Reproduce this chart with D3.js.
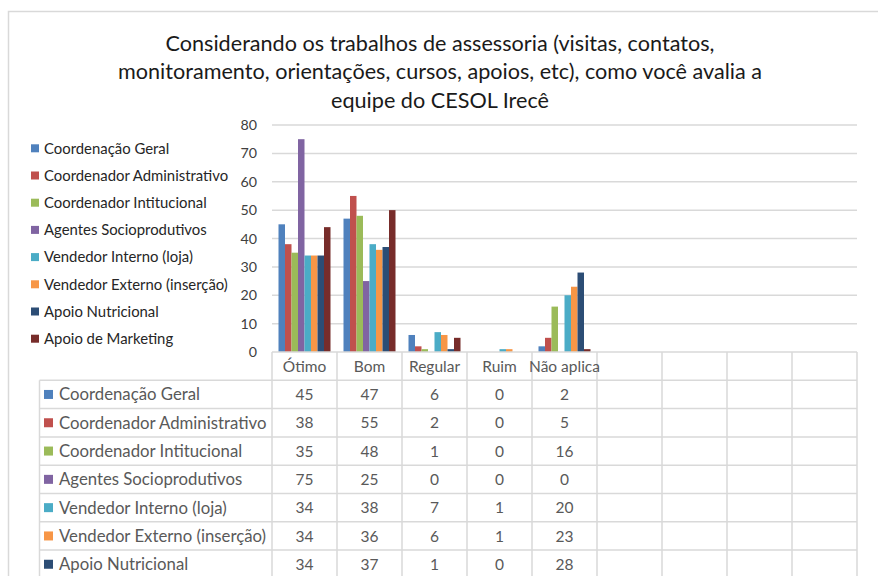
<!DOCTYPE html>
<html><head><meta charset="utf-8">
<script src="https://cdn.jsdelivr.net/npm/d3@7"></script>
<style>body{margin:0;background:#fff;overflow:hidden}</style>
</head><body><svg id="c" width="878" height="576"></svg>
<script>
// ---------- data ----------
const titleLines = [
  "Considerando os trabalhos de assessoria (visitas, contatos,",
  "monitoramento, orientações, cursos, apoios, etc), como você avalia a",
  "equipe do CESOL Irecê"
];
const categories = ["Ótimo", "Bom", "Regular", "Ruim", "Não aplica"];
const blankColumns = 4;
const seriesNames = [
  "Coordenação Geral", "Coordenador Administrativo", "Coordenador Intitucional",
  "Agentes Socioprodutivos", "Vendedor Interno (loja)", "Vendedor Externo (inserção)",
  "Apoio Nutricional", "Apoio de Marketing"
];
const coordenacaoGeral        = [45, 47, 6, 0, 2];
const coordenadorAdministrativo = [38, 55, 2, 0, 5];
const coordenadorIntitucional = [35, 48, 1, 0, 16];
const agentesSocioprodutivos  = [75, 25, 0, 0, 0];
const vendedorInterno         = [34, 38, 7, 1, 20];
const vendedorExterno         = [34, 36, 6, 1, 23];
const apoioNutricional        = [34, 37, 1, 0, 28];
const apoioMarketing          = [44, 50, 5, 0, 1];
const yTicks = [0, 10, 20, 30, 40, 50, 60, 70, 80];
const colors = ["#4F81BD", "#C0504D", "#9BBB59", "#8064A2", "#4BACC6", "#F79646", "#2C4D75", "#772C2A"];

const seriesValues = [coordenacaoGeral, coordenadorAdministrativo, coordenadorIntitucional,
  agentesSocioprodutivos, vendedorInterno, vendedorExterno, apoioNutricional, apoioMarketing];
const series = seriesNames.map((n, i) => ({name: n, values: seriesValues[i], color: colors[i]}));

// ---------- layout ----------
const FONT = "Lato, 'Open Sans', sans-serif";
const svg = d3.select("#c");
const plot = {left: 272, right: 857, top: 125, bottom: 352};
const gridColor = "#D9D9D9";

function fitSize(text, target) {
  const t = svg.append("text").style("font-family", FONT).style("font-size", "100px").text(text);
  const w = t.node().getComputedTextLength();
  t.remove();
  return 100 * target / w;
}

svg.append("rect").attr("width", 878).attr("height", 576).attr("fill", "#fff");
// outer chart border
svg.append("path").attr("d", "M8.5,590V11.5H890").attr("fill", "none")
  .attr("stroke", "#D9D9D9").attr("stroke-width", 1.5);

// title
const titleSize = fitSize(titleLines[1], 644);
svg.append("g").selectAll("text").data(titleLines).join("text")
  .attr("x", 440).attr("y", (d, i) => 51 + i * 28.3)
  .attr("text-anchor", "middle")
  .style("font-family", FONT).style("font-size", titleSize + "px").attr("fill", "#1a1a1a")
  .text(d => d);

// scales
const slots = d3.range(categories.length + blankColumns);
const x = d3.scaleBand().domain(slots).range([plot.left, plot.right]).paddingInner(0).paddingOuter(0);
const inner = d3.scaleBand().domain(d3.range(series.length)).range([x.bandwidth() * 0.1, x.bandwidth() * 0.9]);
const y = d3.scaleLinear().domain([0, 80]).range([plot.bottom, plot.top]);

// gridlines
svg.append("g").selectAll("line").data(yTicks.filter(v => v > 0)).join("line")
  .attr("x1", plot.left).attr("x2", plot.right)
  .attr("y1", d => y(d)).attr("y2", d => y(d))
  .attr("stroke", gridColor).attr("stroke-width", 1.5);

// y axis labels
const tickSize = fitSize("80", 16.5);
const yAxis = d3.axisLeft(y).tickValues(yTicks).tickSize(0).tickPadding(0);
const ya = svg.append("g").attr("transform", "translate(257,0)").call(yAxis);
ya.select(".domain").remove();
ya.selectAll("text").style("font-family", FONT).style("font-size", tickSize + "px").attr("fill", "#404040");

// bars
const gBars = svg.append("g");
series.forEach((s, si) => {
  gBars.append("g").selectAll("rect").data(s.values).join("rect")
    .attr("x", (d, ci) => x(ci) + inner(si))
    .attr("width", inner.bandwidth())
    .attr("y", d => y(d))
    .attr("height", d => plot.bottom - y(d))
    .attr("fill", s.color);
});

// data table
const tableLeft = 39.5;
const catSize = fitSize("Ótimo", 43.5);
const labelSize = fitSize("Vendedor Externo (inserção)", 207);
const rowH = 28.3;
const rows = d3.scaleBand().domain(d3.range(series.length)).range([plot.bottom + rowH, plot.bottom + rowH * (series.length + 1)]);
const tbl = svg.append("g");
// horizontal lines
tbl.append("line").attr("x1", plot.left).attr("x2", plot.right).attr("y1", plot.bottom).attr("y2", plot.bottom)
  .attr("stroke", gridColor).attr("stroke-width", 1.5);
tbl.selectAll("line.h").data(d3.range(series.length + 1)).join("line").attr("class", "h")
  .attr("x1", tableLeft).attr("x2", plot.right)
  .attr("y1", d => plot.bottom + rowH * (d + 1)).attr("y2", d => plot.bottom + rowH * (d + 1))
  .attr("stroke", gridColor).attr("stroke-width", 1.5);
// vertical lines
tbl.selectAll("line.v").data(slots.concat([slots.length])).join("line").attr("class", "v")
  .attr("x1", d => plot.left + d * x.bandwidth()).attr("x2", d => plot.left + d * x.bandwidth())
  .attr("y1", plot.bottom).attr("y2", 600)
  .attr("stroke", gridColor).attr("stroke-width", 1.5);
tbl.append("line").attr("x1", tableLeft).attr("x2", tableLeft).attr("y1", plot.bottom + rowH).attr("y2", 600)
  .attr("stroke", gridColor).attr("stroke-width", 1.5);

// header labels
tbl.selectAll("text.cat").data(categories).join("text").attr("class", "cat")
  .attr("x", (d, i) => x(i) + x.bandwidth() / 2).attr("y", plot.bottom + rowH / 2).attr("dy", "0.36em")
  .attr("text-anchor", "middle")
  .style("font-family", FONT).style("font-size", catSize + "px").attr("fill", "#595959")
  .text(d => d);

// rows
series.forEach((s, si) => {
  const cy = rows(si) + rows.bandwidth() / 2;
  tbl.append("rect").attr("x", 44).attr("y", cy - 4.5).attr("width", 9).attr("height", 9).attr("fill", s.color);
  tbl.append("text").attr("x", 59).attr("y", cy).attr("dy", "0.36em")
    .style("font-family", FONT).style("font-size", labelSize + "px").attr("fill", "#595959").text(s.name);
  tbl.append("g").selectAll("text").data(s.values).join("text")
    .attr("x", (d, ci) => x(ci) + x.bandwidth() / 2).attr("y", cy).attr("dy", "0.36em")
    .attr("text-anchor", "middle")
    .style("font-family", FONT).style("font-size", catSize + "px").attr("fill", "#595959").text(d => d);
});

// legend
const legSize = fitSize("Vendedor Externo (inserção)", 184);
const leg = svg.append("g");
series.forEach((s, si) => {
  const cy = 148.3 + si * 27.2;
  leg.append("rect").attr("x", 31).attr("y", cy - 4).attr("width", 8).attr("height", 8).attr("fill", s.color);
  leg.append("text").attr("x", 44).attr("y", cy).attr("dy", "0.36em")
    .style("font-family", FONT).style("font-size", legSize + "px").attr("fill", "#262626").text(s.name);
});
</script>
</body></html>
